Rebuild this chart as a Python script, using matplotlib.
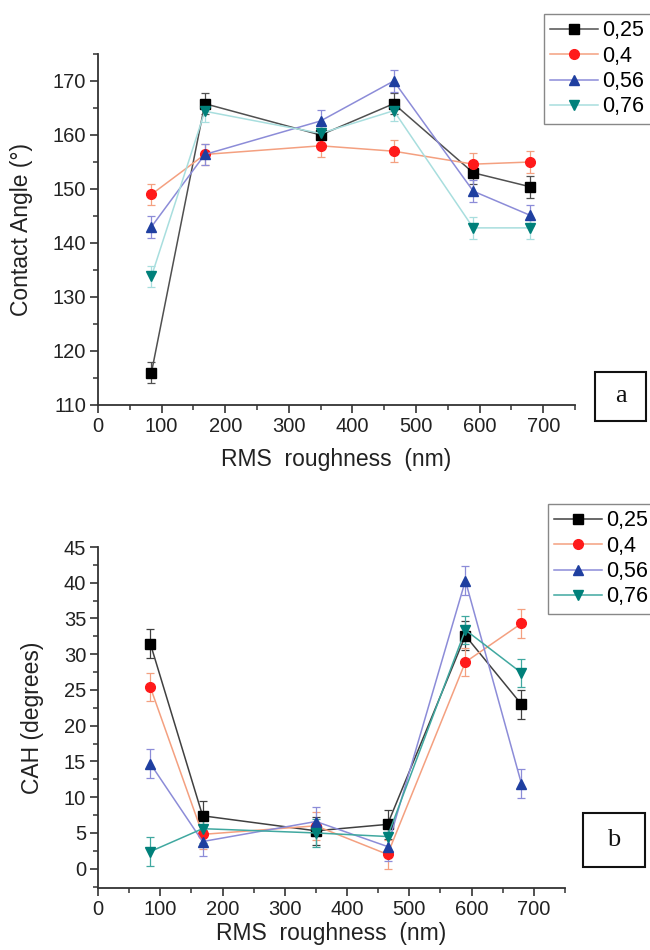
import matplotlib
matplotlib.use('Agg')
from matplotlib import pyplot as plt
from matplotlib.patches import Rectangle
from matplotlib.ticker import MultipleLocator

plt.rcParams['font.family'] = ['Liberation Sans', 'DejaVu Sans']

# RMS roughness (nm) of the samples
rms = [84, 168, 350, 465, 590, 680]
labels = ['0,25', '0,4', '0,56', '0,76']

# contact angle (deg) per series
ca_025 = [116, 165.8, 160, 165.8, 153, 150.4]
ca_04 = [149, 156.4, 158, 157, 154.6, 155]
ca_056 = [143, 156.4, 162.6, 170, 149.6, 145.1]
ca_076 = [133.8, 164.4, 160.3, 164.5, 142.8, 142.8]
ca_err = [2, 2, 2, 2, 2, 2]

# contact angle hysteresis (deg) per series
cah_025 = [31.5, 7.4, 5.3, 6.2, 32.6, 23.0]
cah_04 = [25.4, 4.8, 6.0, 2.0, 28.9, 34.3]
cah_056 = [14.7, 3.8, 6.6, 3.1, 40.3, 11.9]
cah_076 = [2.4, 5.6, 5.0, 4.5, 33.4, 27.4]
cah_err = [2, 2, 2, 2, 2, 2]

markers = ['s', 'o', '^', 'v']
mcolors = ['#000000', '#ff1a1a', '#1f3fa0', '#00807a']
lcolors_a = ['#505050', '#f4a080', '#8c8cd8', '#a8dede']
lcolors_b = ['#404040', '#f4a080', '#8c8cd8', '#40a8a0']

fig = plt.figure(figsize=(6.5, 9.5), dpi=100)
W, H = 650.0, 950.0


def px_axes(x0, y0, x1, y1):
    # pixel box (top-left origin) -> figure axes
    return fig.add_axes([x0 / W, 1 - y1 / H, (x1 - x0) / W, (y1 - y0) / H])


def style_axis(ax, xpad):
    for s in ['top', 'right']:
        ax.spines[s].set_visible(False)
    for s in ['left', 'bottom']:
        ax.spines[s].set_linewidth(1.3)
        ax.spines[s].set_color('#333333')
    ax.tick_params(which='major', direction='out', length=6, width=1.2,
                   labelsize=14.5, colors='#333333', labelcolor='#222222',
                   pad=2.5)
    ax.tick_params(which='minor', direction='out', length=3.5, width=1.1,
                   colors='#333333')
    ax.set_xlim(0, 750)
    ax.xaxis.set_major_locator(MultipleLocator(100))
    ax.xaxis.set_minor_locator(MultipleLocator(50))
    ax.set_xlabel('RMS  roughness  (nm)', fontsize=16.5, color='#222222',
                  labelpad=xpad)


def draw(ax, series, err, lcolors):
    handles = []
    for vals, m, mc, lc, lab in zip(series, markers, mcolors, lcolors, labels):
        ax.errorbar(rms, vals, yerr=err, fmt='none', ecolor=lc,
                    elinewidth=0.9, capsize=3, capthick=0.9, zorder=2)
        h, = ax.plot(rms, vals, color=lc, lw=1.1, marker=m, markersize=7,
                     markerfacecolor=mc, markeredgecolor=mc, label=lab,
                     zorder=3)
        handles.append(h)
    return handles


def letter_box(x0, y0, x1, y1, letter):
    fig.patches.append(Rectangle((x0 / W, 1 - y1 / H), (x1 - x0) / W,
                                 (y1 - y0) / H, transform=fig.transFigure,
                                 fill=False, lw=1.5, ec='#111111'))
    fig.text((x0 + x1) / 2 / W, 1 - (y0 + y1) / 2 / H, letter,
             family=['Liberation Serif', 'DejaVu Serif'], fontsize=19,
             ha='center', va='center', color='#111111')


def legend(ax, handles, x, y):
    ax.legend(handles=handles, loc='upper left', bbox_to_anchor=(x / W, 1 - y / H),
              bbox_transform=fig.transFigure, fontsize=15.5, frameon=True,
              fancybox=False, edgecolor='#888888', framealpha=1,
              handlelength=2.2, handletextpad=0.2, labelspacing=0.2,
              borderpad=0.3, borderaxespad=0)


# panel a
ax1 = px_axes(98, 54, 575, 405)
style_axis(ax1, 9)
ax1.set_ylim(110, 175)
ax1.yaxis.set_major_locator(MultipleLocator(10))
ax1.yaxis.set_minor_locator(MultipleLocator(5))
ax1.set_ylabel('Contact Angle (°)', fontsize=16.5, color='#222222', labelpad=14)
h1 = draw(ax1, [ca_025, ca_04, ca_056, ca_076], ca_err, lcolors_a)
legend(ax1, h1, 544, 14)
letter_box(595, 372, 646, 421, 'a')

# panel b
ax2 = px_axes(98, 547, 565, 888)
style_axis(ax2, 2)
ax2.set_ylim(-2.7, 45)
ax2.yaxis.set_major_locator(MultipleLocator(5))
ax2.yaxis.set_minor_locator(MultipleLocator(2.5))
ax2.set_ylabel('CAH (degrees)', fontsize=16.5, color='#222222', labelpad=14)
h2 = draw(ax2, [cah_025, cah_04, cah_056, cah_076], cah_err, lcolors_b)
legend(ax2, h2, 548, 504)
letter_box(583, 813, 645, 867, 'b')

fig.savefig('out.png', dpi=100)
